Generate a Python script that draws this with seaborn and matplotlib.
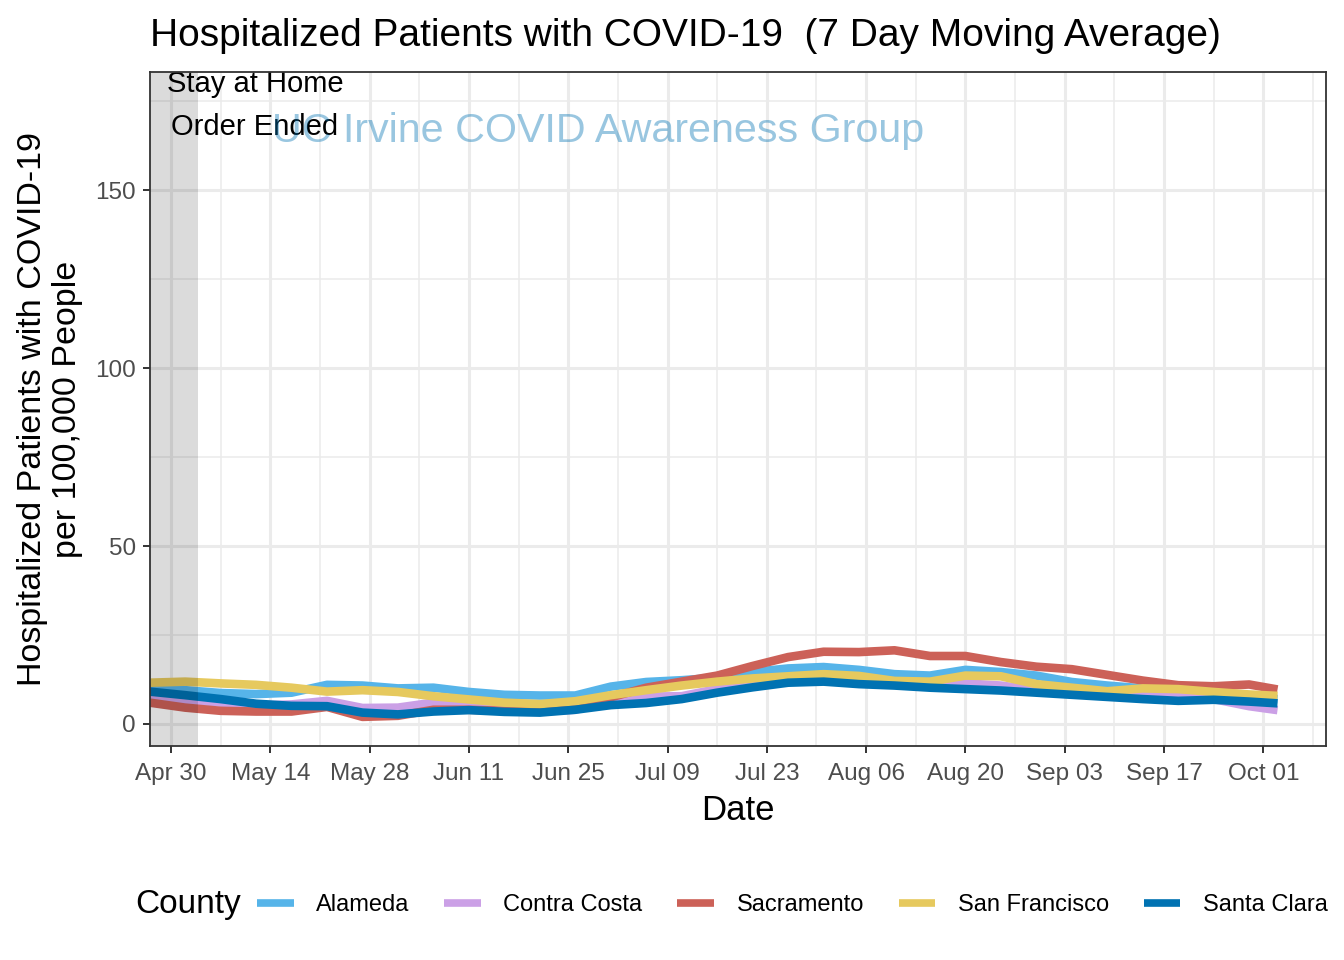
import matplotlib
matplotlib.use("Agg")
import matplotlib.pyplot as plt
from matplotlib.lines import Line2D
import seaborn as sns
import pandas as pd
import numpy as np

dates = ["2020-04-27", "2020-05-02", "2020-05-07", "2020-05-12", "2020-05-17", "2020-05-22",
         "2020-05-27", "2020-06-01", "2020-06-06", "2020-06-11", "2020-06-16", "2020-06-21",
         "2020-06-26", "2020-07-01", "2020-07-06", "2020-07-11", "2020-07-16", "2020-07-21",
         "2020-07-26", "2020-07-31", "2020-08-05", "2020-08-10", "2020-08-15", "2020-08-20",
         "2020-08-25", "2020-08-30", "2020-09-04", "2020-09-09", "2020-09-14", "2020-09-19",
         "2020-09-24", "2020-09-29", "2020-10-03"]

counties = ["Alameda", "Contra Costa", "Sacramento", "San Francisco", "Santa Clara"]

alameda = [10.0, 9.5, 8.7, 8.4, 8.8, 11.0, 10.8, 10.0, 10.2, 9.0, 8.2, 8.0, 8.0, 10.5, 11.8, 12.3,
           13.0, 14.6, 15.6, 16.0, 15.2, 14.0, 13.6, 15.2, 14.6, 13.6, 11.8, 10.8, 10.0, 9.4, 8.5, 7.5, 7.0]
contra_costa = [7.5, 6.8, 6.0, 5.2, 5.5, 6.5, 4.5, 4.6, 6.0, 5.0, 4.0, 3.5, 4.0, 6.5, 7.7, 7.8,
                9.8, 11.2, 12.3, 12.6, 12.4, 12.0, 11.6, 11.4, 10.8, 9.5, 8.8, 8.3, 8.0, 8.0, 7.0, 5.0, 3.9]
sacramento = [6.0, 4.6, 3.7, 3.5, 3.5, 4.8, 2.0, 2.3, 4.0, 4.0, 3.7, 3.8, 4.8, 7.5, 10.2, 11.9,
              13.6, 16.3, 18.8, 20.3, 20.2, 20.7, 19.1, 19.1, 17.4, 16.1, 15.4, 13.8, 12.2, 10.9, 10.6, 11.1, 9.7]
san_francisco = [11.6, 11.9, 11.4, 11.0, 10.2, 9.1, 9.5, 9.0, 7.8, 6.9, 6.0, 5.6, 6.4, 8.1, 9.5, 10.8,
                 11.9, 12.8, 13.4, 14.0, 13.5, 12.1, 11.9, 13.6, 13.4, 11.2, 10.2, 9.2, 10.0, 9.8, 9.0, 8.3, 7.9]
santa_clara = [9.1, 8.1, 7.0, 5.7, 5.1, 5.0, 3.2, 2.7, 3.5, 3.9, 3.4, 3.2, 4.0, 5.3, 5.9, 7.0,
               8.8, 10.3, 11.6, 11.9, 11.2, 10.8, 10.2, 9.8, 9.4, 8.8, 8.2, 7.6, 7.0, 6.5, 6.8, 6.3, 5.8]

colors = ["#56B4E9", "#CBA0E6", "#CC6158", "#E6C95E", "#0072B2"]

x_ticks = ["2020-04-30", "2020-05-14", "2020-05-28", "2020-06-11", "2020-06-25", "2020-07-09",
           "2020-07-23", "2020-08-06", "2020-08-20", "2020-09-03", "2020-09-17", "2020-10-01"]
x_minor = ["2020-05-07", "2020-05-21", "2020-06-04", "2020-06-18", "2020-07-02", "2020-07-16",
           "2020-07-30", "2020-08-13", "2020-08-27", "2020-09-10", "2020-09-24", "2020-10-08"]
y_ticks = [0, 50, 100, 150]
y_minor = [25, 75, 125, 175]

series = [alameda, contra_costa, sacramento, san_francisco, santa_clara]
df = pd.concat([pd.DataFrame({"Date": pd.to_datetime(dates), "Value": v, "County": c})
                for c, v in zip(counties, series)], ignore_index=True)

plt.rcParams['font.family'] = ['Liberation Sans', 'DejaVu Sans']

fig = plt.figure(figsize=(13.44, 9.6), dpi=100)
ax = fig.add_axes([150/1344, 1-746/960, 1176/1344, 674/960])
ax.set_facecolor("white")

# grid
for t in x_minor:
    ax.axvline(pd.Timestamp(t), color="#EBEBEB", lw=1.1, zorder=0)
for t in y_minor:
    ax.axhline(t, color="#EBEBEB", lw=1.1, zorder=0)
for t in x_ticks:
    ax.axvline(pd.Timestamp(t), color="#EBEBEB", lw=2.2, zorder=0)
for t in y_ticks:
    ax.axhline(t, color="#EBEBEB", lw=2.2, zorder=0)

sns.lineplot(data=df, x="Date", y="Value", hue="County", hue_order=counties,
             palette=colors, linewidth=6.2, ax=ax, legend=False, estimator=None,
             solid_capstyle="butt", solid_joinstyle="round", zorder=2)

ax.axvspan(pd.Timestamp("2020-04-20"), pd.Timestamp("2020-05-03 20:00"),
           color="black", alpha=0.14, lw=0, zorder=3)

ax.text(pd.Timestamp("2020-05-11 20:00"), 179.8, "Stay at Home", ha="center", va="center",
        fontsize=21, color="black", zorder=4)
ax.text(pd.Timestamp("2020-05-11 20:00"), 167.6, "Order Ended", ha="center", va="center",
        fontsize=21, color="black", zorder=4)
ax.text(0.381, 0.912, "UC Irvine COVID Awareness Group", transform=ax.transAxes,
        ha="center", va="center", fontsize=29.7, color="#0072B2", alpha=0.4, zorder=4)

ax.set_xlim(pd.Timestamp("2020-04-27 01:00"), pd.Timestamp("2020-10-09 20:00"))
ax.set_ylim(-6.18, 183.15)
ax.set_xticks([pd.Timestamp(t) for t in x_ticks])
ax.set_xticklabels([pd.Timestamp(t).strftime("%b %d") for t in x_ticks])
ax.set_yticks(y_ticks)
ax.set_yticklabels([str(t) for t in y_ticks])
ax.tick_params(axis="both", length=5, width=1.4, color="#333333", labelcolor="#4D4D4D",
               labelsize=17.5, pad=5)
ax.tick_params(axis="x", pad=7.5)
ax.set_xlabel("")
ax.set_ylabel("")
for s in ax.spines.values():
    s.set_color("#333333")
    s.set_linewidth(1.3)
    s.set_zorder(5)

fig.text(150/1344, 1-46/960, "Hospitalized Patients with COVID-19  (7 Day Moving Average)",
         ha="left", va="baseline", fontsize=28, color="black")
fig.text(50/1344, 1-409/960, "Hospitalized Patients with COVID-19\nper 100,000 People",
         rotation=90, ha="center", va="center", multialignment="center", fontsize=24.5,
         linespacing=1.2, color="black")
fig.text(738/1344, 1-811/960, "Date", ha="center", va="center", fontsize=25, color="black")

fig.text(135/1344, 1-904/960, "County", ha="left", va="center", fontsize=24, color="black")
handles = [Line2D([0], [0], color=c, lw=5.5, solid_capstyle="butt") for c in colors]
fig.legend(handles, counties, loc="center left", bbox_to_anchor=(257/1344, 1-905/960),
           ncol=5, frameon=False, fontsize=17, handlelength=1.55, handletextpad=0.95,
           columnspacing=1.48, borderpad=0, borderaxespad=0)

fig.savefig("out.png", dpi=100, facecolor="white")
